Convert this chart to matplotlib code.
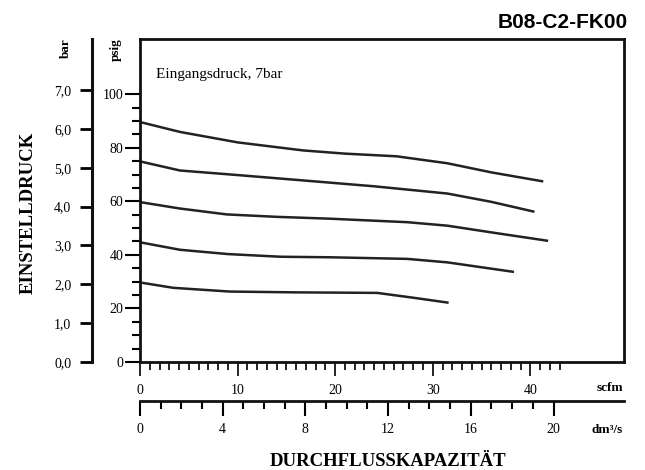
import matplotlib.pyplot as plt
import numpy as np

plt.rcParams['font.family'] = ['Liberation Serif', 'DejaVu Serif']

# curves: flow in scfm, set pressure in psig
c1_x = [0, 4.1, 10, 16.7, 21, 26.3, 31.5, 36, 41.2]
c1_y = [89.6, 85.9, 82.0, 79.0, 77.8, 76.8, 74.2, 70.8, 67.5]
c2_x = [0, 4.1, 10, 16.7, 24, 31.5, 36, 40.3]
c2_y = [74.9, 71.5, 69.8, 67.8, 65.6, 62.9, 59.8, 56.2]
c3_x = [0, 4.1, 8.9, 14, 19.5, 27.4, 31.5, 36, 41.7]
c3_y = [59.7, 57.3, 55.1, 54.2, 53.5, 52.2, 50.9, 48.4, 45.3]
c4_x = [0, 4.1, 9, 14.4, 19.5, 27.4, 31.5, 38.2]
c4_y = [44.7, 41.9, 40.3, 39.3, 39.1, 38.5, 37.2, 33.7]
c5_x = [0, 3.4, 9.2, 16, 24.3, 28, 31.5]
c5_y = [29.7, 27.7, 26.3, 26.0, 25.8, 24.0, 22.2]
curves = [(c1_x, c1_y), (c2_x, c2_y), (c3_x, c3_y), (c4_x, c4_y), (c5_x, c5_y)]

psig_ticks = [0, 20, 40, 60, 80, 100]
bar_ticks = [0, 1, 2, 3, 4, 5, 6, 7]
scfm_ticks = [0, 10, 20, 30, 40]
dm3_ticks = [0, 4, 8, 12, 16, 20]

PSI_PER_BAR = 14.5038
SCFM_PER_DM3 = 2.1189

W, H = 645, 470
fig = plt.figure(figsize=(6.45, 4.7), dpi=100)
L, R, T, B = 140, 624, 39, 362
ax = fig.add_axes([L / W, (H - B) / H, (R - L) / W, (B - T) / H])

for x, y in curves:
    ax.plot(x, y, color='#222222', lw=1.8)

ax.set_xlim(0, 49.6)
ax.set_ylim(0, 120.6)
for s in ax.spines.values():
    s.set_linewidth(2)
    s.set_color('#111111')

ax.set_yticks(psig_ticks)
ax.set_yticks(np.arange(0, 105, 5), minor=True)
ax.set_xticks(scfm_ticks)
ax.set_xticks(np.arange(0, 44, 1), minor=True)
ax.tick_params(axis='y', which='major', length=11, width=1.5, pad=1, labelsize=10)
ax.tick_params(axis='y', which='minor', length=6, width=1.5)
ax.tick_params(axis='x', which='major', length=10, width=1.2, pad=6, labelsize=10)
ax.tick_params(axis='x', which='minor', length=6, width=1.2)

# bar scale on its own spine to the left
ax_bar = ax.secondary_yaxis(-48 / (R - L), functions=(lambda p: p / PSI_PER_BAR,
                                                       lambda b: b * PSI_PER_BAR))
ax_bar.set_yticks(bar_ticks)
ax_bar.set_yticklabels([f'{b:.1f}'.replace('.', ',') for b in bar_ticks])
ax_bar.spines['left'].set_linewidth(2.2)
ax_bar.spines['left'].set_color('#111111')
ax_bar.tick_params(length=9, width=2, pad=6, labelsize=10)

# dm3/s scale under the scfm one
ax_dm = ax.secondary_xaxis(-39 / (B - T), functions=(lambda q: q / SCFM_PER_DM3,
                                                      lambda d: d * SCFM_PER_DM3))
ax_dm.set_xticks(dm3_ticks)
ax_dm.set_xticks(np.arange(0, 21, 1), minor=True)
ax_dm.spines['bottom'].set_linewidth(2)
ax_dm.spines['bottom'].set_color('#111111')
ax_dm.tick_params(which='major', length=11, width=1.5, pad=5, labelsize=10)
ax_dm.tick_params(which='minor', length=6, width=1.5)

ax.text(0.033, 0.89, 'Eingangsdruck, 7bar', transform=ax.transAxes, fontsize=11,
        va='center')

fig.text(628 / W, 1 - 22 / H, 'B08-C2-FK00', fontsize=15, fontweight='bold',
         family='Liberation Sans', ha='right', va='center')
fig.text(623 / W, 1 - 388 / H, 'scfm', fontsize=9.5, fontweight='bold', ha='right', va='center')
fig.text(623 / W, 1 - 430 / H, 'dm³/s', fontsize=9.5, fontweight='bold', ha='right', va='center')
fig.text(66 / W, 1 - 48 / H, 'bar', fontsize=9.5, fontweight='bold', rotation=90,
         ha='center', va='center')
fig.text(116 / W, 1 - 50 / H, 'psig', fontsize=9.5, fontweight='bold', rotation=90,
         ha='center', va='center')
fig.text(28 / W, 1 - 213 / H, 'EINSTELLDRUCK', fontsize=13.5, fontweight='bold', rotation=90,
         ha='center', va='center')
fig.text(388 / W, 1 - 462 / H, 'DURCHFLUSSKAPAZITÄT', fontsize=13.5, fontweight='bold',
         ha='center', va='center')

fig.savefig('out.png', dpi=100)
